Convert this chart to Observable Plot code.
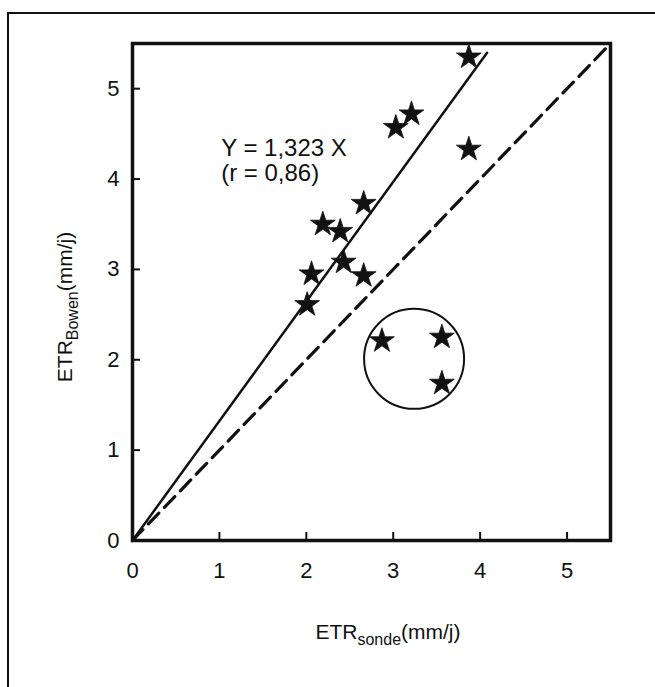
<!DOCTYPE html>
<html><head><meta charset="utf-8">
<script src="https://cdn.jsdelivr.net/npm/d3@7"></script>
<script src="https://cdn.jsdelivr.net/npm/@observablehq/plot@0.6"></script>
<style>
html,body{margin:0;padding:0;background:#fff;}
#wrap{position:relative;width:655px;height:687px;overflow:hidden;background:#fff;}
#border{position:absolute;left:7px;top:12px;width:700px;height:700px;border-top:2px solid #111;border-left:2px solid #111;}
#wrap svg{position:absolute;left:0;top:0;}
</style></head><body><div id="wrap"><div id="border"></div></div>
<script>
// ---- data ----
const xTicks = [0, 1, 2, 3, 4, 5];
const yTicks = [0, 1, 2, 3, 4, 5];
const sondeX = [3.87, 3.03, 3.21, 3.87, 2.66, 2.19, 2.39, 2.06, 2.43, 2.66, 2.01, 2.87, 3.56, 3.56];
const bowenY = [5.35, 4.57, 4.72, 4.33, 3.73, 3.50, 3.42, 2.95, 3.08, 2.93, 2.61, 2.21, 2.25, 1.74];
const slope = 1.323;
const regX = [0, 4.08];
const identityX = [0, 5.5];
const circleX = [3.24];
const circleY = [2.01];
const eqLines = ["Y = 1,323 X", "(r = 0,86)"];
const eqX = [1.02, 1.02];
const eqY = [4.34, 4.06];

const font = "'Liberation Sans', Arial, Helvetica, sans-serif";
const pts = sondeX.map((x, i) => ({x, y: bowenY[i]}));
const reg = regX.map(x => ({x, y: slope * x}));
const idl = identityX.map(v => ({x: v, y: v}));
const circ = circleX.map((x, i) => ({x, y: circleY[i]}));
const eq = eqLines.map((t, i) => ({t, x: eqX[i], y: eqY[i]}));
const fmt = d => String(d);

const plot = Plot.plot({
  width: 655, height: 687,
  marginLeft: 132, marginRight: 45, marginTop: 43, marginBottom: 147,
  x: {domain: [0, 5.5]},
  y: {domain: [0, 5.5]},
  style: {fontFamily: font, fontSize: "22px", color: "#111", background: "transparent"},
  marks: [
    Plot.line(reg, {x: "x", y: "y", stroke: "#111", strokeWidth: 2.5}),
    Plot.line(idl, {x: "x", y: "y", stroke: "#111", strokeWidth: 3.2, strokeDasharray: "15,8"}),
    Plot.dot(circ, {x: "x", y: "y", r: 50, stroke: "#111", strokeWidth: 2, fill: "none"}),
    Plot.dot(pts, {x: "x", y: "y", symbol: "star", r: 7.8, fill: "#111", stroke: "#111", strokeWidth: 0.8}),
    Plot.text(eq, {x: "x", y: "y", text: "t", textAnchor: "start", fontSize: 24, fill: "#111"}),
    Plot.frame({stroke: "#111", strokeWidth: 3.5}),
    Plot.ruleX(xTicks, {x: d => d, y1: () => 0, y2: () => 0, insetBottom: 8, stroke: "#111", strokeWidth: 2}),
    Plot.ruleY(yTicks, {y: d => d, x1: () => 0, x2: () => 0, insetRight: -8, stroke: "#111", strokeWidth: 2}),
    Plot.axisX({ticks: xTicks, tickSize: 0, tickPadding: 22, tickFormat: fmt, label: null, fontSize: 22}),
    Plot.axisY({ticks: yTicks, tickSize: 0, tickPadding: 13, tickFormat: fmt, label: null, fontSize: 22})
  ]
});
document.getElementById("wrap").appendChild(plot);

// axis titles with subscripts
const svg = d3.select(plot);
const xl = svg.append("text").attr("x", 388).attr("y", 639).attr("text-anchor", "middle")
  .attr("font-family", font).attr("font-size", 21).attr("fill", "#111");
xl.append("tspan").text("ETR");
xl.append("tspan").attr("font-size", 16).attr("dy", 6).text("sonde");
xl.append("tspan").attr("dy", -6).text("(mm/j)");
const yl = svg.append("text").attr("transform", "translate(72,307) rotate(-90)").attr("text-anchor", "middle")
  .attr("font-family", font).attr("font-size", 21).attr("fill", "#111");
yl.append("tspan").text("ETR");
yl.append("tspan").attr("font-size", 16).attr("dy", 6).text("Bowen");
yl.append("tspan").attr("dy", -6).text("(mm/j)");
</script></body></html>
